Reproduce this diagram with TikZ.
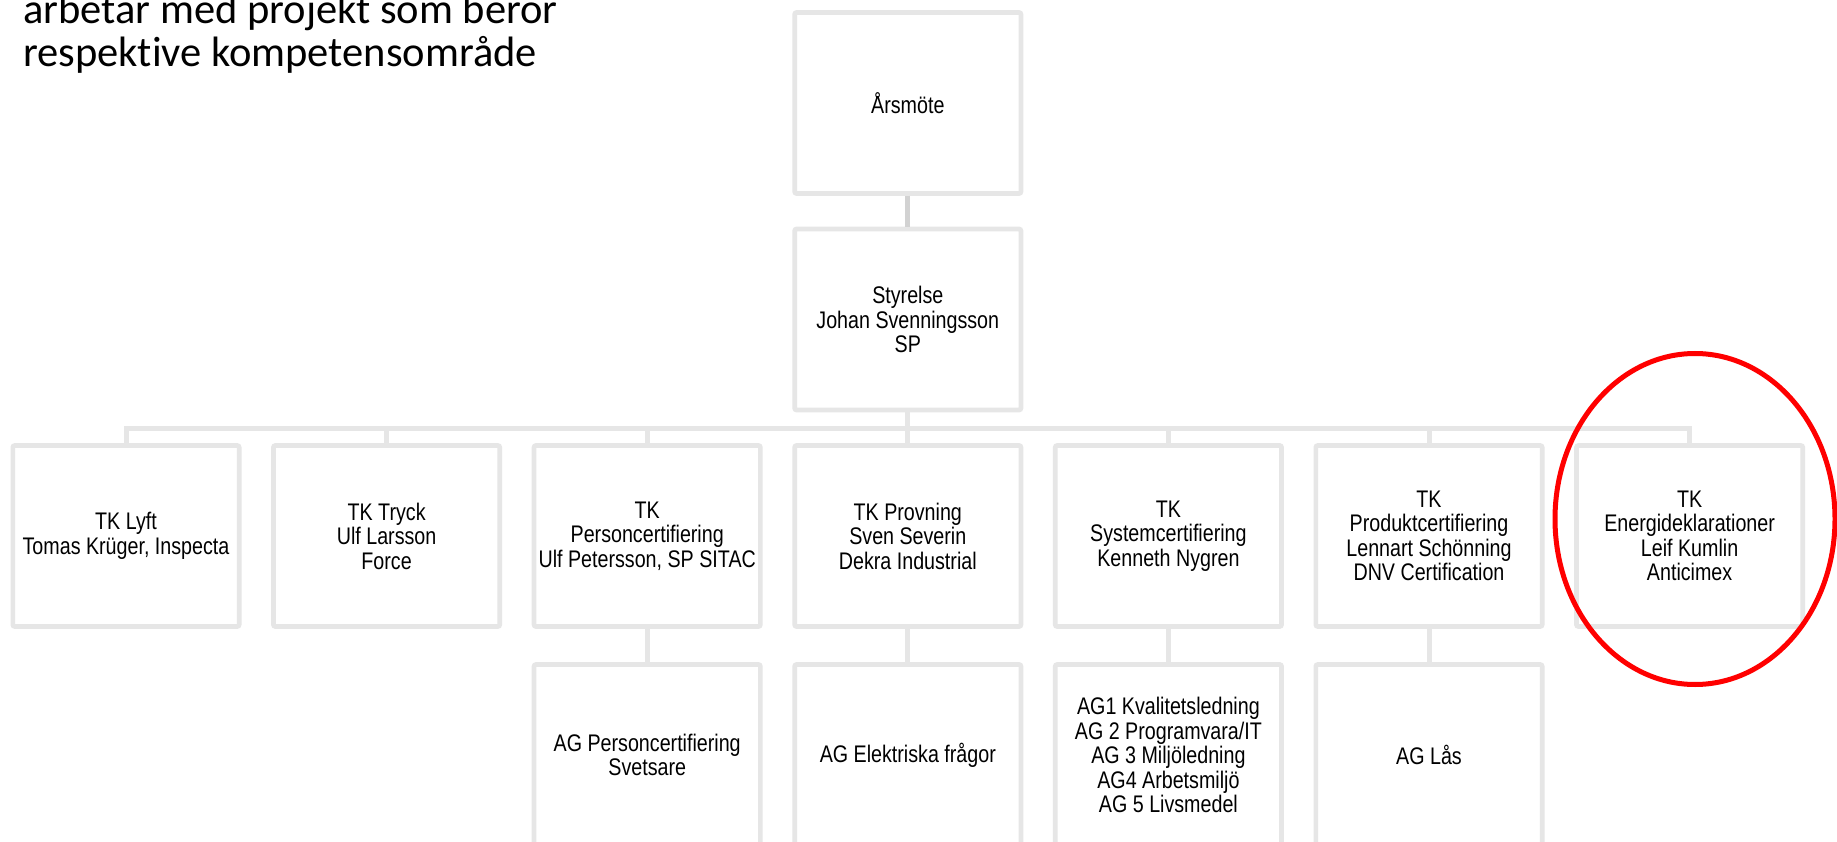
\documentclass[tikz,border=0pt]{standalone}
\usepackage{fontspec}
\setmainfont{Liberation Sans}[FakeStretch=0.82]
\newfontfamily\titlefont{Carlito}[Ligatures=NoCommon]
\usetikzlibrary{shapes.geometric}
\definecolor{boxgray}{HTML}{E6E6E6}
\definecolor{linkgray}{HTML}{D2D2D2}
\tikzset{
  orgbox/.style={draw=boxgray, line width=4.7pt, fill=white, rounded corners=2pt,
    minimum width=226.3pt, minimum height=181pt, inner sep=0pt, align=center,
    font=\fontsize{24}{24.5}\selectfont, text=black},
  conn/.style={draw=boxgray, line width=5pt},
  topconn/.style={draw=linkgray, line width=5pt},
  titletext/.style={anchor=base west, inner sep=0pt, font=\titlefont\fontsize{42.5}{44}\selectfont},
  mark ring/.style={draw=red, line width=5pt, ellipse, minimum width=280pt, minimum height=331pt, inner sep=0pt}
}
\begin{document}
\begin{tikzpicture}[x=1pt,y=-1pt]
\useasboundingbox (0,0) rectangle (1837,842);
\clip (0,0) rectangle (1837,842);
\fill[white] (0,0) rectangle (1837,842);

\node[titletext] (title1) at (23,24) {arbetar med projekt som beror};
\node[titletext] (title2) at (23,67) {respektive kompetensområde};

% top levels
\node[orgbox] (ars) at (907.8,103) {Årsmöte};
\node[orgbox] (sty) at (907.8,319.5) {Styrelse\\Johan Svenningsson\\SP};

% TK row
\node[orgbox] (tk0) at (126,536) {TK Lyft\\Tomas Krüger, Inspecta};
\node[orgbox] (tk1) at (386.6,536) {TK Tryck\\Ulf Larsson\\Force};
\node[orgbox] (tk2) at (647.2,536) {TK\\Personcertifiering\\Ulf Petersson, SP SITAC};
\node[orgbox] (tk3) at (907.8,536) {TK Provning\\Sven Severin\\Dekra Industrial};
\node[orgbox] (tk4) at (1168.4,536) {TK\\Systemcertifiering\\Kenneth Nygren};
\node[orgbox] (tk5) at (1429,536) {TK\\Produktcertifiering\\Lennart Schönning\\DNV Certification};
\node[orgbox] (tk6) at (1689.6,536) {TK\\Energideklarationer\\Leif Kumlin\\Anticimex};

% AG row
\node[orgbox] (ag2) at (647.2,755) {AG Personcertifiering\\Svetsare};
\node[orgbox] (ag3) at (907.8,755) {AG Elektriska frågor};
\node[orgbox] (ag4) at (1168.4,755) {AG1 Kvalitetsledning\\AG 2 Programvara/IT\\AG 3 Miljöledning\\AG4 Arbetsmiljö\\AG 5 Livsmedel};
\node[orgbox] (ag5) at (1429,755) {AG Lås};

% connectors
\draw[topconn] (ars.south) -- (sty.north);
\coordinate (bus) at ([yshift=-16pt]sty.south);
\draw[conn] (sty.south) -- (bus);
\foreach \t in {tk0,tk1,tk2,tk3,tk4,tk5,tk6} {
  \draw[conn] (bus) -| (\t.north);
}
\foreach \t/\a in {tk2/ag2,tk3/ag3,tk4/ag4,tk5/ag5} {
  \draw[conn] (\t.south) -- (\a.north);
}

% highlight
\node[mark ring] (ring) at (1695,519) {};
\end{tikzpicture}
\end{document}
